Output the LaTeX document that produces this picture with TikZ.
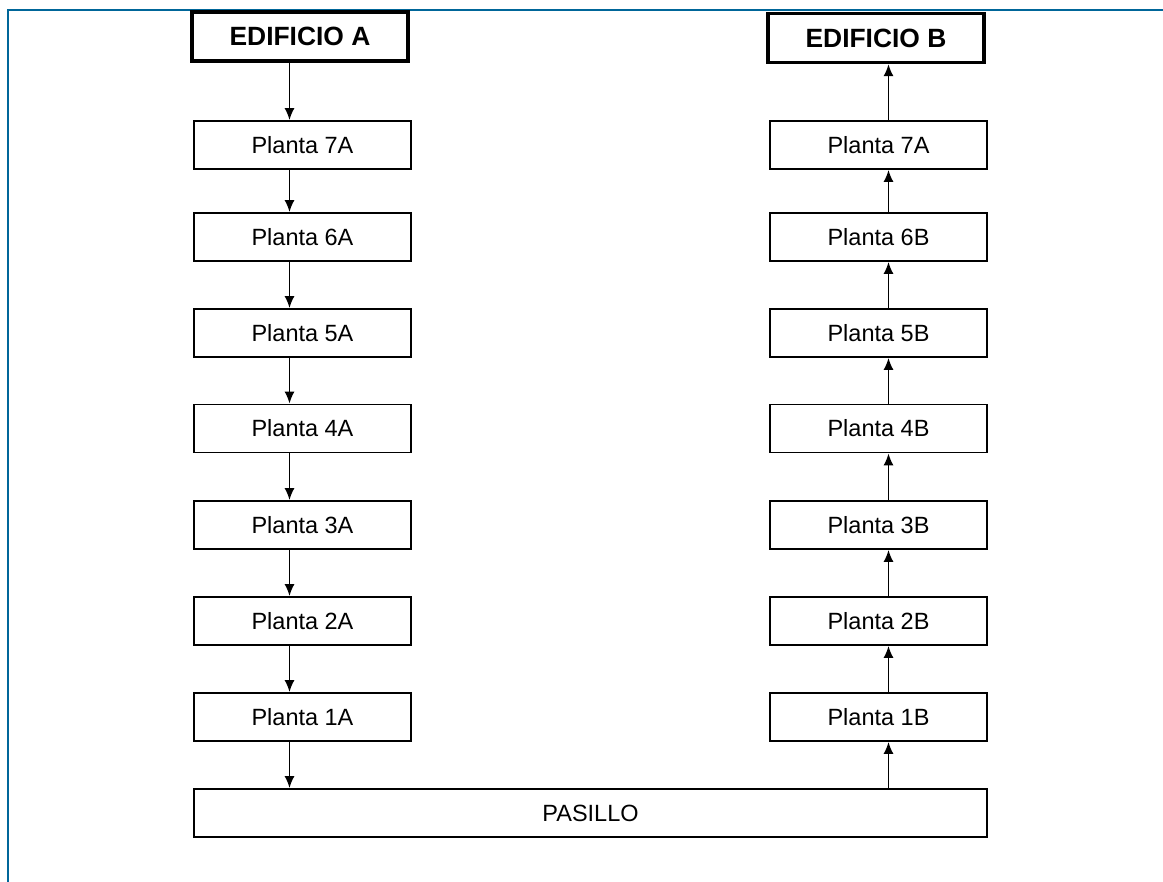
\documentclass[tikz,border=0pt]{standalone}
\usepackage{fontspec}
\setmainfont{Liberation Sans}
\usetikzlibrary{arrows.meta}
\definecolor{framecol}{RGB}{0,102,153}
\begin{document}
\begin{tikzpicture}[x=0.5pt,y=-0.5pt,
  floorbox/.style={draw=black, line width=0.85pt, fill=white, rectangle,
    minimum width=108.5pt, minimum height=24pt, inner sep=0pt,
    font=\fontsize{11.75}{14}\selectfont},
  headbox/.style={draw=black, line width=1.6pt, fill=white, rectangle,
    minimum width=108pt, minimum height=24.5pt, inner sep=0pt,
    font=\fontsize{13.2}{16}\selectfont\bfseries},
  hallbox/.style={floorbox, minimum width=396.5pt},
  arr/.style={draw=black, line width=0.85pt, -{Latex[length=6pt,width=5pt]}}]
  \useasboundingbox (0,0) rectangle (1163,882);
  % page frame (top and left edges)
  \draw[framecol, line width=1.1pt] (8,882) -- (8,10) -- (1163,10);

  % building A column
  \node[headbox] (ha) at (300,36.5) {EDIFICIO A};
  \node[floorbox] (a7) at (302.5,145) {Planta 7A};
  \node[floorbox] (a6) at (302.5,237) {Planta 6A};
  \node[floorbox] (a5) at (302.5,333) {Planta 5A};
  \node[floorbox] (a4) at (302.5,428.5) {Planta 4A};
  \node[floorbox] (a3) at (302.5,525) {Planta 3A};
  \node[floorbox] (a2) at (302.5,621) {Planta 2A};
  \node[floorbox] (a1) at (302.5,717) {Planta 1A};

  % building B column
  \node[headbox] (hb) at (876,38) {EDIFICIO B};
  \node[floorbox] (b7) at (878.5,145) {Planta 7A};
  \node[floorbox] (b6) at (878.5,237) {Planta 6B};
  \node[floorbox] (b5) at (878.5,333) {Planta 5B};
  \node[floorbox] (b4) at (878.5,428.5) {Planta 4B};
  \node[floorbox] (b3) at (878.5,525) {Planta 3B};
  \node[floorbox] (b2) at (878.5,621) {Planta 2B};
  \node[floorbox] (b1) at (878.5,717) {Planta 1B};

  % corridor joining both buildings
  \node[hallbox] (p) at (590.5,813) {PASILLO};

  % vertical lines of the connectors
  \coordinate (xa) at (289.5,0);
  \coordinate (xb) at (888.5,0);

  % downward path through building A
  \draw[arr] (ha.south -| xa) -- (a7.north -| xa);
  \draw[arr] (a7.south -| xa) -- (a6.north -| xa);
  \draw[arr] (a6.south -| xa) -- (a5.north -| xa);
  \draw[arr] (a5.south -| xa) -- (a4.north -| xa);
  \draw[arr] (a4.south -| xa) -- (a3.north -| xa);
  \draw[arr] (a3.south -| xa) -- (a2.north -| xa);
  \draw[arr] (a2.south -| xa) -- (a1.north -| xa);
  \draw[arr] (a1.south -| xa) -- (p.north -| xa);

  % upward path through building B
  \draw[arr] (p.north -| xb) -- (b1.south -| xb);
  \draw[arr] (b1.north -| xb) -- (b2.south -| xb);
  \draw[arr] (b2.north -| xb) -- (b3.south -| xb);
  \draw[arr] (b3.north -| xb) -- (b4.south -| xb);
  \draw[arr] (b4.north -| xb) -- (b5.south -| xb);
  \draw[arr] (b5.north -| xb) -- (b6.south -| xb);
  \draw[arr] (b6.north -| xb) -- (b7.south -| xb);
  \draw[arr] (b7.north -| xb) -- (hb.south -| xb);
\end{tikzpicture}
\end{document}
